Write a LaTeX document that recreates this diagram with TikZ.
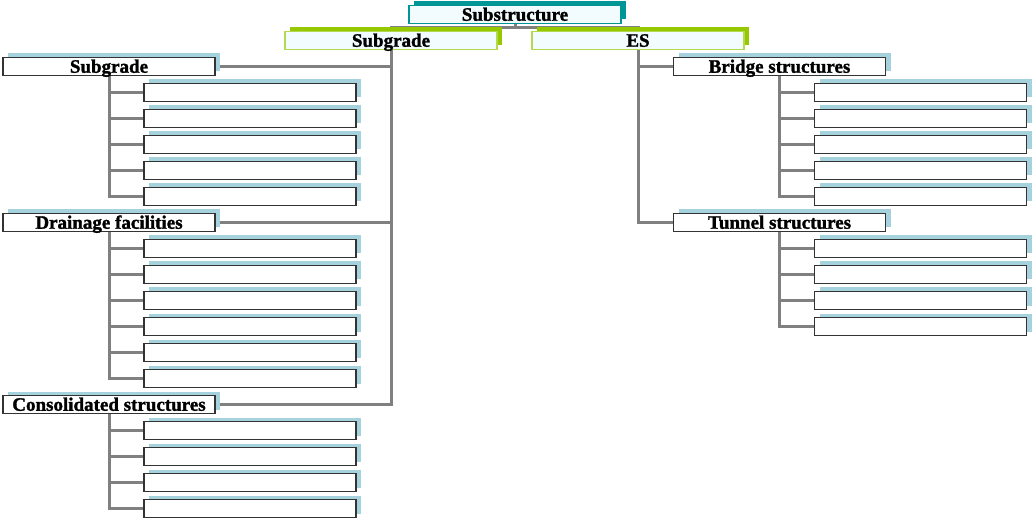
\documentclass[tikz,border=0pt]{standalone}
\usepackage{fontspec}
\setmainfont{Liberation Serif}[BoldFeatures={FakeBold=1.5}]
\usepackage{tikz}
\usetikzlibrary{shadows}
\usetikzlibrary{backgrounds}
\tikzset{>=latex}
\definecolor{tealsh}{RGB}{0,150,150}
\definecolor{limesh}{RGB}{150,200,0}
\definecolor{cyansh}{RGB}{165,210,220}
\tikzset{
    box/.style={draw=black!80, line width=1.2pt, fill=white, minimum width=212pt, minimum height=18pt,
        inner sep=0pt, text height=12.5pt, text depth=0pt, font=\fontsize{19}{19}\selectfont\bfseries},
    leaf/.style={box, general shadow={shadow xshift=5pt, shadow yshift=4pt, fill=cyansh}},
    topbox/.style={box, draw=tealsh, fill=cyan!5, general shadow={shadow xshift=5pt, shadow yshift=4pt, fill=tealsh}},
    mainbox/.style={box, draw=limesh!70, fill=cyan!5, general shadow={shadow xshift=5pt, shadow yshift=4pt, fill=limesh}},
    conn/.style={draw=gray, line width=3pt}
}
\begin{document}
\begin{tikzpicture}[x=1pt, y=-1pt]
    \useasboundingbox (0, 0) rectangle (1033, 521);
    \node[topbox](top) at (515, 14.5){Substructure};
    \node[mainbox](sub) at (391, 40.5){Subgrade};
    \node[mainbox](es) at (638, 40.5){ES};
    \node[leaf](sgr) at (109, 66.5){Subgrade};
    \node[leaf](drn) at (109, 222.5){Drainage facilities};
    \node[leaf](con) at (109, 404.5){Consolidated structures};
    \node[leaf](brg) at (779.5, 66.5){Bridge structures};
    \node[leaf](tun) at (779.5, 222.5){Tunnel structures};
    \foreach \i in {1,...,5} \node[leaf](sgr\i) at (250, 66.5+26*\i){};
    \foreach \i in {1,...,6} \node[leaf](drn\i) at (250, 222.5+26*\i){};
    \foreach \i in {1,...,4} \node[leaf](con\i) at (250, 404.5+26*\i){};
    \foreach \i in {1,...,5} \node[leaf](brg\i) at (920.5, 66.5+26*\i){};
    \foreach \i in {1,...,4} \node[leaf](tun\i) at (920.5, 222.5+26*\i){};
    \begin{scope}[on background layer]
        \draw[conn](top.south)--++(0, 3);
        \draw[conn](sub)|-([yshift=-3pt]top.south)-|(es);
        \draw[conn](sub)|-(sgr.east);
        \draw[conn](sub)|-(drn.east);
        \draw[conn](sub)|-(con.east);
        \draw[conn](es)|-(brg.west);
        \draw[conn](es)|-(tun.west);
        \foreach \i in {1,...,5} \draw[conn](sgr)|-(sgr\i.west);
        \foreach \i in {1,...,6} \draw[conn](drn)|-(drn\i.west);
        \foreach \i in {1,...,4} \draw[conn](con)|-(con\i.west);
        \foreach \i in {1,...,5} \draw[conn](brg)|-(brg\i.west);
        \foreach \i in {1,...,4} \draw[conn](tun)|-(tun\i.west);
    \end{scope}
\end{tikzpicture}
\end{document}
